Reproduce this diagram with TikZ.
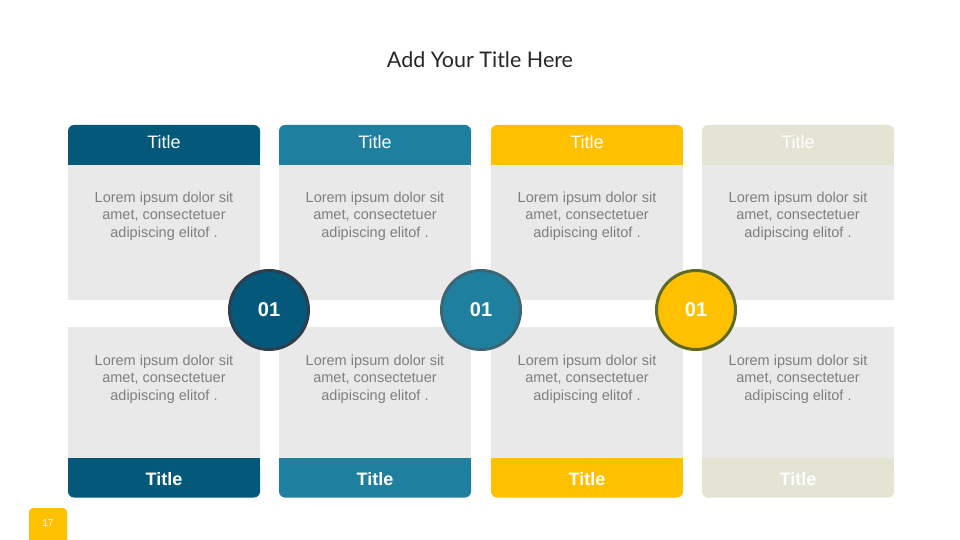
\documentclass[tikz,border=0pt]{standalone}
\usepackage{fontspec}
\setmainfont{Liberation Sans}
\newfontfamily\heading{Lato}
\usepackage{tikz}
\usetikzlibrary{calc}

\definecolor{deepblue}{HTML}{04587A}
\definecolor{seablue}{HTML}{1E7F9F}
\definecolor{gold}{HTML}{FFC000}
\definecolor{sand}{HTML}{E4E4D5}
\definecolor{panel}{HTML}{E9E9E9}
\definecolor{loremgray}{HTML}{7F7F7F}
\definecolor{inkgray}{HTML}{262626}
\definecolor{deeprim}{HTML}{2F3E4E}
\definecolor{searim}{HTML}{3B6775}
\definecolor{goldrim}{HTML}{5E6B27}

\tikzset{
  head/.style={rectangle, rounded corners=6pt, minimum width=192pt, minimum height=34pt,
    inner sep=0pt, text=white, font=\fontsize{18}{20}\selectfont},
  foot/.style={head, minimum height=37pt, font=\fontsize{18}{20}\selectfont\bfseries},
  panelbox/.style={rectangle, fill=panel, minimum width=192pt, inner sep=0pt},
  lorem/.style={align=center, text=loremgray, font=\fontsize{14.5}{17.5}\selectfont},
  numdot/.style={circle, minimum size=79pt, inner sep=0pt, line width=3pt, text=white,
    font=\fontsize{20}{22}\selectfont\bfseries}
}

\begin{document}
\begin{tikzpicture}[x=1pt, y=-1pt]
\useasboundingbox (0,0) rectangle (960,540);

\node [font=\heading\fontsize{21.5}{24}\selectfont, text=inkgray] (title) at (480,60) {Add Your Title Here};

% four columns
\foreach \i/\cx/\col in {1/164/deepblue, 2/375/seablue, 3/587/gold, 4/798/sand} {
  \fill [\col] (\cx-96,140) rectangle (\cx+96,165);
  \node [head, fill=\col] (head\i) at (\cx,142) {Title};
  \node [panelbox, minimum height=135pt] (upper\i) at (\cx,232.5) {};
  \node [lorem] (uptext\i) at (\cx,216) {Lorem ipsum dolor sit\\amet, consectetuer\\adipiscing elitof .};
  \node [panelbox, minimum height=131pt] (lower\i) at (\cx,392.5) {};
  \node [lorem] (lowtext\i) at (\cx,379) {Lorem ipsum dolor sit\\amet, consectetuer\\adipiscing elitof .};
  \fill [\col] (\cx-96,458) rectangle (\cx+96,480);
  \node [foot, fill=\col] (foot\i) at (\cx,479) {Title};
}

% step markers
\node [numdot, fill=deepblue, draw=deeprim] (dot1) at (269,310) {01};
\node [numdot, fill=seablue, draw=searim] (dot2) at (481,310) {01};
\node [numdot, fill=gold, draw=goldrim] (dot3) at (696,310) {01};

% page number
\node [rectangle, rounded corners=4pt, fill=gold, minimum width=38pt, minimum height=44pt,
  inner sep=0pt] (pagebox) at (48,530) {};
\node [text=white, font=\fontsize{10}{12}\selectfont] (pagenum) at (48,523) {17};
\end{tikzpicture}
\end{document}
